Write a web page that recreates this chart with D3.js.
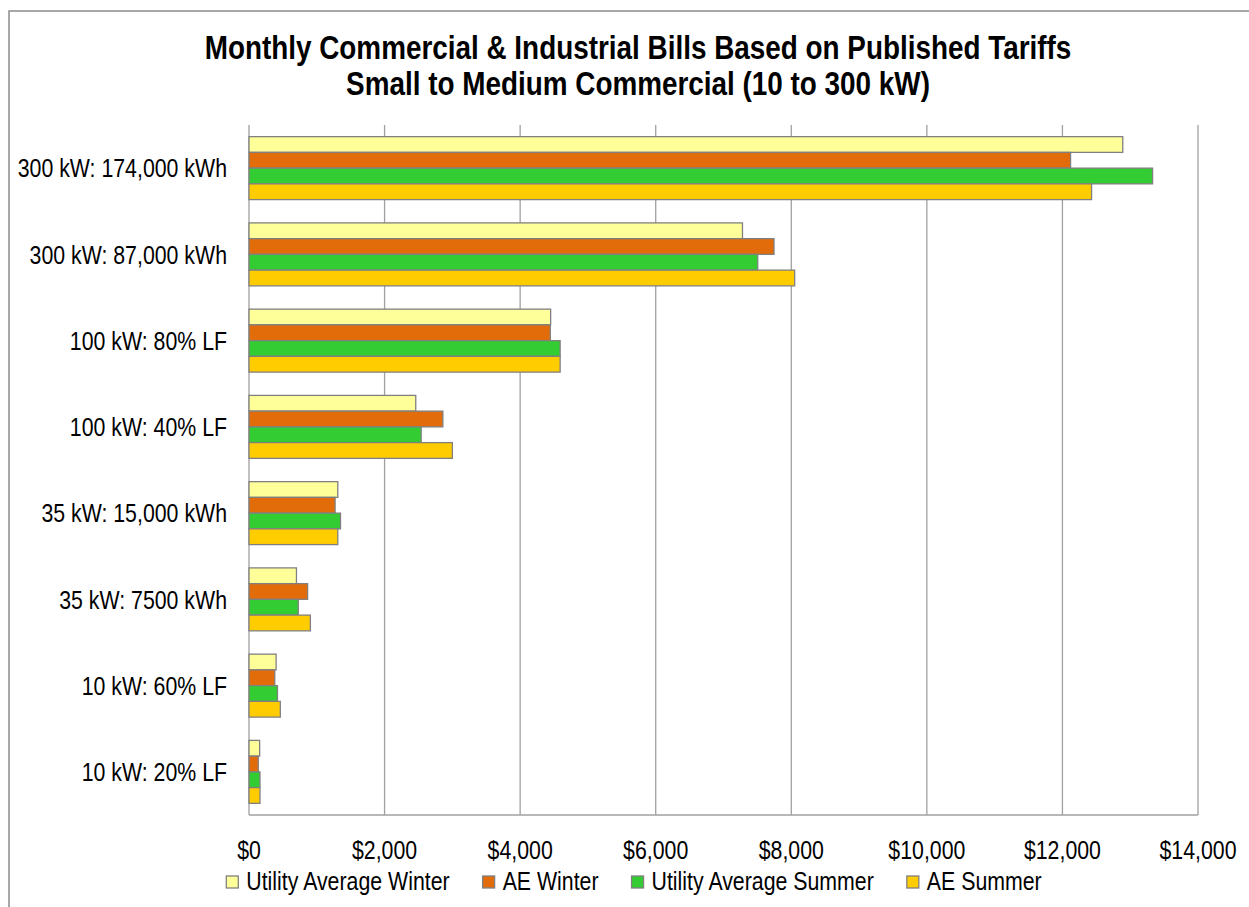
<!DOCTYPE html>
<html>
<head>
<meta charset="utf-8">
<script src="https://cdn.jsdelivr.net/npm/d3@7"></script>
<style>
  html, body { margin: 0; padding: 0; background: #fff; }
  svg { display: block; }
</style>
</head>
<body>
<script>
// Monthly bills by customer profile, four tariff cases
const categories = [
  "300 kW: 174,000 kWh",
  "300 kW: 87,000 kWh",
  "100 kW: 80% LF",
  "100 kW: 40% LF",
  "35 kW: 15,000 kWh",
  "35 kW: 7500 kWh",
  "10 kW: 60% LF",
  "10 kW: 20% LF"
];
const seriesNames = ["Utility Average Winter", "AE Winter", "Utility Average Summer", "AE Summer"];
const utilityWinter = [12890, 7280, 4450, 2460, 1310, 700, 400, 157];
const aeWinter      = [12120, 7745, 4445, 2860, 1270, 865, 380, 137];
const utilitySummer = [13330, 7505, 4590, 2540, 1350, 727, 420, 162];
const aeSummer      = [12430, 8050, 4590, 3000, 1310, 905, 462, 162];
const xTicks = [0, 2000, 4000, 6000, 8000, 10000, 12000, 14000];
const titleLines = [
  "Monthly Commercial & Industrial Bills Based on Published Tariffs",
  "Small to Medium Commercial (10 to 300 kW)"
];
const colors = ["#FFFF99", "#E36C0A", "#33CC33", "#FFCC00"];

const W = 1249, H = 907;
const plot = { left: 249, right: 1198, top: 125, bottom: 815 };

// Pick a narrow face; if none is installed, squeeze a regular one.
function fontAvailable(name) {
  const ctx = document.createElement("canvas").getContext("2d");
  const s = "abcdefghijklmWMil0123456789$";
  ctx.font = "40px monospace";
  const a = ctx.measureText(s).width;
  ctx.font = `40px "${name}", monospace`;
  const b = ctx.measureText(s).width;
  return a !== b;
}
let family, squeeze;
if (fontAvailable("Liberation Sans Narrow")) { family = "'Liberation Sans Narrow'"; squeeze = 1; }
else if (fontAvailable("Arial Narrow")) { family = "'Arial Narrow'"; squeeze = 1; }
else { family = "'Liberation Sans', Arial, sans-serif"; squeeze = 0.82; }

const svg = d3.select("body").append("svg").attr("width", W).attr("height", H);

function label(parent, x, y, str, o = {}) {
  return parent.append("text")
    .attr("transform", `translate(${x},${y}) scale(${squeeze},1)`)
    .attr("text-anchor", o.anchor || "start")
    .attr("dominant-baseline", o.baseline || "alphabetic")
    .attr("font-family", family)
    .attr("font-size", o.size || 26)
    .attr("font-weight", o.weight || "normal")
    .attr("fill", "#000")
    .text(str);
}

// outer frame edges
svg.append("path")
  .attr("d", `M9,${H} L9,11 L${W},11`)
  .attr("fill", "none").attr("stroke", "#8c8c8c").attr("stroke-width", 1.5);

// title
const titleG = svg.append("g");
label(titleG, 638, 59, titleLines[0], { anchor: "middle", size: 34, weight: "bold" });
label(titleG, 638, 95, titleLines[1], { anchor: "middle", size: 34, weight: "bold" });

// scales
const x = d3.scaleLinear().domain([0, 14000]).range([plot.left, plot.right]);
const y = d3.scaleBand().domain(categories).range([plot.top, plot.bottom])
  .paddingInner(0.27).paddingOuter(0.135);
const ySub = d3.scaleBand().domain(seriesNames).range([0, y.bandwidth()]);

// gridlines
const grid = svg.append("g");
grid.selectAll("line.g").data(xTicks).join("line")
  .attr("x1", d => x(d)).attr("x2", d => x(d))
  .attr("y1", plot.top).attr("y2", plot.bottom)
  .attr("stroke", "#a0a0a0").attr("stroke-width", 1.3);
grid.append("line")
  .attr("x1", plot.left).attr("x2", plot.right)
  .attr("y1", plot.bottom).attr("y2", plot.bottom)
  .attr("stroke", "#a0a0a0").attr("stroke-width", 1.3);

// bars
const seriesData = [utilityWinter, aeWinter, utilitySummer, aeSummer];
const rows = [];
categories.forEach((c, i) => {
  seriesNames.forEach((s, j) => rows.push({ cat: c, s, j, v: seriesData[j][i] }));
});
svg.append("g").selectAll("rect").data(rows).join("rect")
  .attr("x", x(0))
  .attr("y", d => y(d.cat) + ySub(d.s))
  .attr("width", d => x(d.v) - x(0))
  .attr("height", ySub.bandwidth())
  .attr("fill", d => colors[d.j])
  .attr("stroke", "#808080").attr("stroke-width", 1.3);

// category labels
const yl = svg.append("g");
categories.forEach(c => {
  label(yl, 227, y(c) + y.bandwidth() / 2, c, { anchor: "end", baseline: "central", size: 26 });
});

// x tick labels
const xl = svg.append("g");
const fmt = d3.format("$,");
xTicks.forEach(t => {
  label(xl, x(t), 859, fmt(t), { anchor: "middle", size: 26 });
});

// legend, centred under the chart
const leg = svg.append("g");
const sw = 12, gapText = 8, gapItem = 33;
const items = seriesNames.map((n, j) => {
  const t = label(leg, 0, 890, n, { size: 26 });
  return { t, w: t.node().getComputedTextLength() * squeeze, j };
});
const total = d3.sum(items, d => sw + gapText + d.w) + gapItem * (items.length - 1);
let cx = 634 - total / 2;
items.forEach(it => {
  leg.append("rect")
    .attr("x", cx).attr("y", 876).attr("width", sw).attr("height", sw)
    .attr("fill", colors[it.j]).attr("stroke", "#808080").attr("stroke-width", 1.3);
  it.t.attr("transform", `translate(${cx + sw + gapText},890) scale(${squeeze},1)`);
  cx += sw + gapText + it.w + gapItem;
});
</script>
</body>
</html>
